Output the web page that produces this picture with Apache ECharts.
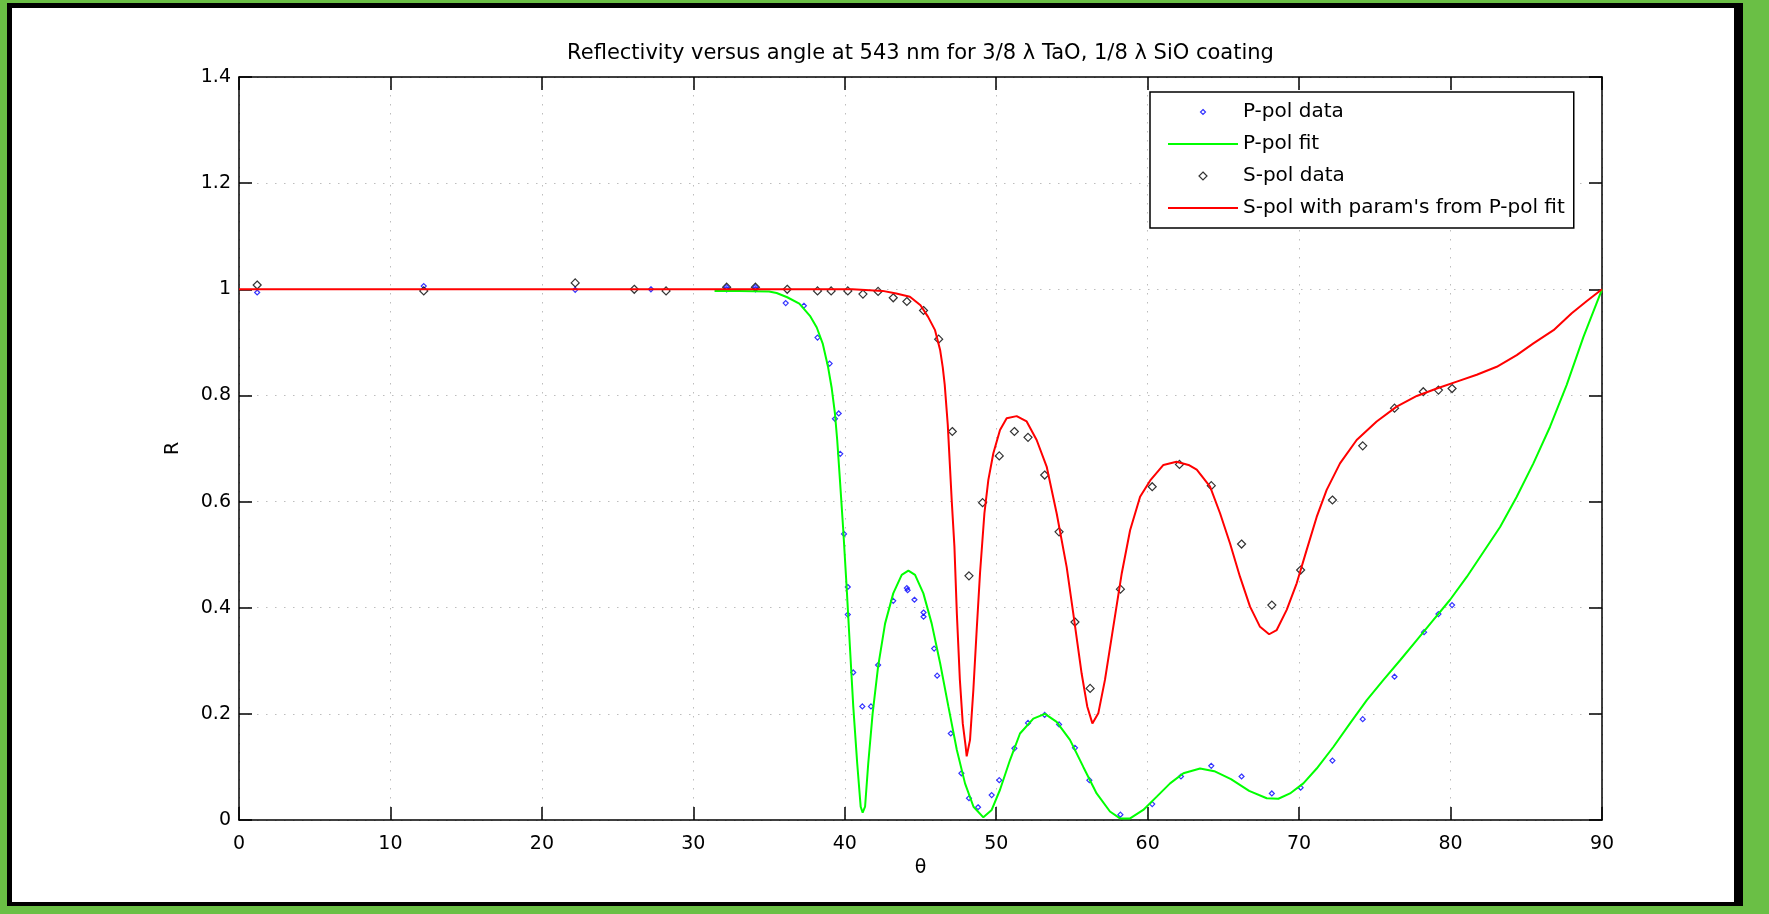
<!DOCTYPE html>
<html>
<head>
<meta charset="utf-8">
<title>Reflectivity versus angle</title>
<script src="https://cdn.jsdelivr.net/npm/echarts@6/dist/echarts.min.js"></script>
<style>
  html, body { margin: 0; padding: 0; background: #fff; }
  #chart { width: 1769px; height: 914px; }
</style>
</head>
<body>
<div id="chart"></div>
<script>
// Measured reflectivity (angle in degrees, R)
const pPolData = [
  [1.2, 0.994], [12.2, 1.006], [22.2, 0.999], [27.2, 1.0], [32.2, 1.004], [32.2, 1.0],
  [34.1, 1.004], [34.1, 1.0], [36.1, 0.974], [37.3, 0.969], [38.2, 0.909], [39.0, 0.860],
  [39.35, 0.756], [39.6, 0.766], [39.7, 0.690], [39.95, 0.539], [40.2, 0.439], [40.2, 0.387],
  [40.56, 0.278], [41.16, 0.214], [41.73, 0.214], [42.2, 0.292], [43.2, 0.413], [44.1, 0.437],
  [44.15, 0.433], [44.6, 0.415], [45.2, 0.391], [45.2, 0.383], [45.9, 0.323], [46.1, 0.272],
  [47.0, 0.163], [47.7, 0.088], [48.2, 0.041], [48.8, 0.024], [49.7, 0.047], [50.2, 0.075],
  [51.2, 0.135], [52.1, 0.183], [53.2, 0.198], [54.15, 0.180], [55.2, 0.136], [56.15, 0.075],
  [58.2, 0.010], [60.3, 0.030], [62.2, 0.082], [64.2, 0.102], [66.2, 0.082], [68.2, 0.050],
  [70.1, 0.061], [72.2, 0.112], [74.2, 0.190], [76.3, 0.270], [78.25, 0.354], [79.2, 0.388],
  [80.1, 0.405]
];

const sPolData = [
  [1.2, 1.008], [12.2, 0.997], [22.2, 1.012], [26.1, 1.0], [28.2, 0.997], [32.2, 1.004],
  [34.1, 1.004], [36.2, 1.0], [38.2, 0.997], [39.1, 0.997], [40.2, 0.997], [41.2, 0.991],
  [42.2, 0.996], [43.2, 0.984], [44.1, 0.977], [45.2, 0.960], [46.2, 0.906], [47.1, 0.732],
  [48.2, 0.460], [49.1, 0.598], [50.2, 0.686], [51.2, 0.732], [52.1, 0.721], [53.2, 0.650],
  [54.15, 0.543], [55.2, 0.373], [56.2, 0.248], [58.2, 0.435], [60.3, 0.628], [62.1, 0.670],
  [64.2, 0.630], [66.2, 0.520], [68.2, 0.405], [70.1, 0.471], [72.2, 0.603], [74.2, 0.705],
  [76.3, 0.776], [78.2, 0.807], [79.2, 0.810], [80.1, 0.813]
];

// Fitted model curves
const pPolFit = [
  [31.4, 0.997], [33.0, 0.997], [35.0, 0.996], [35.5, 0.993], [36.2, 0.985], [37.0, 0.973],
  [37.7, 0.950], [38.15, 0.928], [38.55, 0.897], [38.9, 0.853], [39.13, 0.815], [39.35, 0.766],
  [39.5, 0.716], [39.68, 0.641], [39.9, 0.546], [40.12, 0.440], [40.34, 0.326], [40.56, 0.214],
  [40.82, 0.107], [41.05, 0.025], [41.18, 0.014], [41.34, 0.025], [41.55, 0.107], [41.84, 0.201],
  [42.2, 0.289], [42.66, 0.370], [43.2, 0.427], [43.76, 0.462], [44.2, 0.470], [44.64, 0.462],
  [45.19, 0.427], [45.74, 0.370], [46.3, 0.295], [46.84, 0.214], [47.4, 0.132], [47.94, 0.069],
  [48.5, 0.025], [49.15, 0.005], [49.7, 0.019], [50.25, 0.057], [50.91, 0.113], [51.57, 0.163],
  [52.45, 0.191], [53.22, 0.200], [53.99, 0.185], [54.87, 0.151], [55.75, 0.100], [56.63, 0.050],
  [57.51, 0.016], [58.17, 0.003], [58.84, 0.003], [59.71, 0.019], [60.6, 0.044], [61.48, 0.069],
  [62.36, 0.088], [63.46, 0.097], [64.4, 0.092], [65.5, 0.077], [66.7, 0.055], [67.86, 0.041],
  [68.63, 0.040], [69.4, 0.050], [70.28, 0.069], [71.16, 0.097], [72.27, 0.138], [73.36, 0.182],
  [74.47, 0.226], [75.57, 0.264], [76.67, 0.301], [77.77, 0.339], [78.87, 0.377], [79.97, 0.415],
  [81.07, 0.458], [82.17, 0.505], [83.27, 0.552], [84.37, 0.609], [85.47, 0.672], [86.57, 0.741],
  [87.67, 0.820], [88.77, 0.910], [90.0, 1.0]
];

const sPolFit = [
  [0, 1.0], [40.5, 1.0], [42.5, 0.997], [43.4, 0.992], [44.3, 0.986], [45.0, 0.970],
  [45.5, 0.948], [45.96, 0.923], [46.3, 0.885], [46.47, 0.853], [46.6, 0.820], [46.8, 0.745],
  [47.06, 0.603], [47.24, 0.515], [47.4, 0.389], [47.6, 0.264], [47.79, 0.182], [47.98, 0.139],
  [48.05, 0.120], [48.27, 0.151], [48.49, 0.245], [48.71, 0.358], [48.93, 0.465], [49.22, 0.578],
  [49.48, 0.641], [49.81, 0.691], [50.25, 0.735], [50.69, 0.757], [51.35, 0.761], [52.01, 0.751],
  [52.67, 0.716], [53.33, 0.666], [53.99, 0.578], [54.65, 0.477], [55.09, 0.389], [55.64, 0.276],
  [56.01, 0.214], [56.35, 0.182], [56.74, 0.201], [57.18, 0.264], [57.73, 0.364], [58.29, 0.465],
  [58.84, 0.546], [59.5, 0.609], [60.2, 0.641], [61.04, 0.669], [61.9, 0.675], [62.7, 0.669],
  [63.24, 0.660], [64.12, 0.628], [64.78, 0.578], [65.44, 0.521], [66.1, 0.458], [66.76, 0.402],
  [67.42, 0.364], [68.02, 0.350], [68.52, 0.358], [69.18, 0.396], [69.84, 0.446], [70.5, 0.509],
  [71.16, 0.571], [71.82, 0.622], [72.7, 0.672], [73.8, 0.716], [75.12, 0.751], [76.44, 0.779],
  [77.77, 0.799], [79.09, 0.813], [80.41, 0.826], [81.73, 0.839], [83.05, 0.854], [84.37, 0.876],
  [85.47, 0.898], [86.8, 0.923], [88.0, 0.955], [89.0, 0.978], [90.0, 1.0]
];

const seriesNames = ['P-pol data', 'P-pol fit', 'S-pol data', "S-pol with param's from P-pol fit"];
const titleText = 'Reflectivity versus angle at 543 nm for 3/8 \u03bb TaO, 1/8 \u03bb SiO coating';
const xAxisName = '\u03b8';
const yAxisName = 'R';

const FONT = 'DejaVu Sans';
const GRID = { left: 239, top: 77, width: 1363, height: 743 };

const chart = echarts.init(document.getElementById('chart'), null, { renderer: 'canvas' });

const gridLine = { show: true, lineStyle: { color: '#bdbdbd', width: 1, type: [1.5, 7.5] } };
const boxAxisLine = { show: true, onZero: false, lineStyle: { color: '#000', width: 1.5 } };
const boxTick = { show: true, inside: true, length: 13, lineStyle: { color: '#000', width: 1.5 } };
const tickLabel = { color: '#000', fontFamily: FONT, fontSize: 19 };

chart.setOption({
  animation: false,
  backgroundColor: '#6abf45',
  graphic: [
    { type: 'rect', z: -100, shape: { x: 7, y: 3, width: 1736, height: 903 }, style: { fill: '#000' } },
    { type: 'rect', z: -99, shape: { x: 12, y: 8, width: 1722, height: 894 }, style: { fill: '#fff' } }
  ],
  title: {
    text: titleText,
    left: GRID.left + GRID.width / 2,
    top: 43,
    padding: 0,
    textAlign: 'center',
    textStyle: { fontFamily: FONT, fontSize: 21, fontWeight: 'normal', color: '#000' }
  },
  grid: Object.assign({ show: false }, GRID),
  legend: {
    orient: 'vertical',
    left: 1150,
    top: 92,
    padding: [10, 9, 10, 17],
    backgroundColor: '#fff',
    borderColor: '#000',
    borderWidth: 1.5,
    borderRadius: 0,
    itemWidth: 70,
    itemHeight: 10,
    itemGap: 12,
    selectedMode: false,
    textStyle: { fontFamily: FONT, fontSize: 20, color: '#000', lineHeight: 20 },
    itemStyle: { borderWidth: 1.2 },
    data: [
      { name: seriesNames[0], icon: 'path://M0,0M10,10M5,2.5L7.5,5L5,7.5L2.5,5Z' },
      { name: seriesNames[1], itemStyle: { opacity: 0 } },
      { name: seriesNames[2], icon: 'path://M0,0M10,10M5,1L9,5L5,9L1,5Z' },
      { name: seriesNames[3], itemStyle: { opacity: 0 } }
    ]
  },
  xAxis: [
    {
      type: 'value', min: 0, max: 90, interval: 10, position: 'bottom',
      name: xAxisName, nameLocation: 'middle', nameGap: 39,
      nameTextStyle: { fontFamily: FONT, fontSize: 19, color: '#000' },
      axisLine: boxAxisLine, axisTick: boxTick,
      axisLabel: Object.assign({ margin: 15 }, tickLabel),
      splitLine: gridLine
    },
    {
      type: 'value', min: 0, max: 90, interval: 10, position: 'top',
      axisLine: boxAxisLine, axisTick: boxTick,
      axisLabel: { show: false }, splitLine: { show: false }
    }
  ],
  yAxis: [
    {
      type: 'value', min: 0, max: 1.4, interval: 0.2, position: 'left',
      name: yAxisName, nameLocation: 'middle', nameGap: 56, nameRotate: 90,
      nameTextStyle: { fontFamily: FONT, fontSize: 19, color: '#000' },
      axisLine: boxAxisLine, axisTick: boxTick,
      axisLabel: Object.assign({ margin: 8 }, tickLabel),
      splitLine: gridLine
    },
    {
      type: 'value', min: 0, max: 1.4, interval: 0.2, position: 'right',
      axisLine: boxAxisLine, axisTick: boxTick,
      axisLabel: { show: false }, splitLine: { show: false }
    }
  ],
  series: [
    {
      name: seriesNames[0], type: 'scatter', data: pPolData,
      symbol: 'diamond', symbolSize: 5,
      itemStyle: { color: 'rgba(0,0,0,0)', borderColor: '#0000ff', borderWidth: 1.2 },
      emphasis: { disabled: true }
    },
    {
      name: seriesNames[1], type: 'line', data: pPolFit,
      showSymbol: false, symbol: 'none', smooth: false,
      itemStyle: { color: '#00ff00' },
      lineStyle: { color: '#00ff00', width: 2 },
      emphasis: { disabled: true }
    },
    {
      name: seriesNames[2], type: 'scatter', data: sPolData,
      symbol: 'diamond', symbolSize: 8,
      itemStyle: { color: 'rgba(0,0,0,0)', borderColor: '#000000', borderWidth: 1.2 },
      emphasis: { disabled: true }
    },
    {
      name: seriesNames[3], type: 'line', data: sPolFit,
      showSymbol: false, symbol: 'none', smooth: false,
      itemStyle: { color: '#ff0000' },
      lineStyle: { color: '#ff0000', width: 2 },
      emphasis: { disabled: true }
    }
  ]
});
</script>
</body>
</html>
